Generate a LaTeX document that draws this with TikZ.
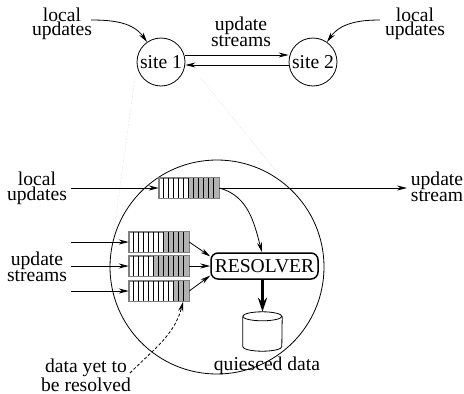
\documentclass[tikz,border=0pt]{standalone}
\usepackage{fontspec}
\setmainfont{Liberation Serif}
\usetikzlibrary{arrows.meta}
\tikzset{
	lbl/.style={align=center, inner sep=0pt, font=\fontsize{19.6}{14.5}\selectfont},
	site/.style={circle, draw, thick, minimum size=48, inner sep=0pt, font=\fontsize{19.6}{15}\selectfont},
	queue/.style={draw=gray, line width=1, minimum width=59.5, minimum height=20, inner sep=0pt},
	arr/.style={-{Stealth[length=10,width=5]}, line width=0.8},
}
% one queue: name, position, number of empty cells
\newcommand{\queuebox}[3]{
	\node[queue] (#1) at (#2) {};
	\fill[gray!60] ([xshift=#3*4.96]#1.south west) rectangle (#1.north east);
	\foreach \i in {1,...,11}
		\draw[line width=0.7] ([xshift=\i*4.96]#1.south west) -- ([xshift=\i*4.96]#1.north west);
	\draw[gray, line width=1] (#1.south west) rectangle (#1.north east);
}
\begin{document}
\begin{tikzpicture}[x=1pt, y=-1pt]
	\useasboundingbox (0,0) rectangle (464,394);
	% top: the two sites
	\node[site] (site1) at (161,62) {site 1};
	\node[site] (site2) at (313,62) {site 2};
	\node[lbl] (local1) at (62,24) {local\\updates};
	\node[lbl] (local2) at (415,24) {local\\updates};
	\node[lbl] (streams) at (241,32) {update\\streams};
	\coordinate (in1a) at (91,20);
	\coordinate (in1b) at (380,20);
	\draw[arr] (in1a) to[out=0, in=125] (site1);
	\draw[arr] (in1b) to[out=180, in=55] (site2);
	\draw[arr] ([yshift=7]site1.east) -- ([yshift=7]site2.west);
	\draw[arr] ([yshift=-3]site2.west) -- ([yshift=-3]site1.east);

	% the enlarged site
	\node[circle, draw, thick, minimum size=214, inner sep=0pt] (big) at (217,267) {};
	\coordinate (dotl) at (135,77);
	\coordinate (dotr) at (200,77);
	\draw[gray!40, densely dotted] (dotl) -- (big.167);
	\draw[gray!40, densely dotted] (dotr) -- (big.48);

	\queuebox{q0}{189,188}{6}
	\queuebox{q1}{159,242}{7}
	\queuebox{q2}{159,266}{5}
	\queuebox{q3}{159,291}{9}

	\node[draw, line width=1.5, rounded corners=7, minimum width=107, minimum height=26, inner sep=0pt, font=\fontsize{19.6}{15}\selectfont] (res) at (264.5,266) {RESOLVER};
	% cylinder
	\node[minimum width=39, minimum height=39, inner sep=0pt] (db) at (262.5,331.5) {};
	\draw[thick] ([yshift=-4.5]db.north west) arc[start angle=180, end angle=540, x radius=19.5, y radius=4.5];
	\draw[thick] ([yshift=-4.5]db.north west) -- ([yshift=4.5]db.south west)
		arc[start angle=180, end angle=0, x radius=19.5, y radius=4.5] -- ([yshift=-4.5]db.north east);

	\node[lbl] (local3) at (37,188.5) {local\\updates};
	\node[lbl] (out) at (437,187) {update\\stream};
	\node[lbl] (streams2) at (37,267) {update\\streams};
	\node[lbl] (quiet) at (267,366) {quiesced data};
	\node[lbl] (yet) at (86,375) {data yet to\\be resolved};

	\coordinate (in0) at (71,188);
	\coordinate (in1) at (71,242);
	\coordinate (in2) at (71,266);
	\coordinate (in3) at (71,291);
	\coordinate (outend) at (407,188);
	\coordinate (yetend) at (130,373);

	\draw[arr] (in0) -- (q0.west);
	\draw[arr] (q0.east) -- (outend);
	\draw[arr] (q0.east) to[out=-15, in=105] ([xshift=-2.5]res.north);
	\draw[arr] (in1) -- (q1.west);
	\draw[arr] (in2) -- (q2.west);
	\draw[arr] (in3) -- (q3.west);
	\draw[arr] (q1.east) -- (res.170);
	\draw[arr] (q2.east) -- (res.west);
	\draw[arr] (q3.east) -- (res.190);
	\draw[-{Stealth[length=14,width=9]}, line width=2.5] (res.south -| db.north) -- (db.north);
	\draw[arr, densely dashed] (yetend) to[out=45, in=-105] ([xshift=-6]q3.south east);
\end{tikzpicture}
\end{document}
